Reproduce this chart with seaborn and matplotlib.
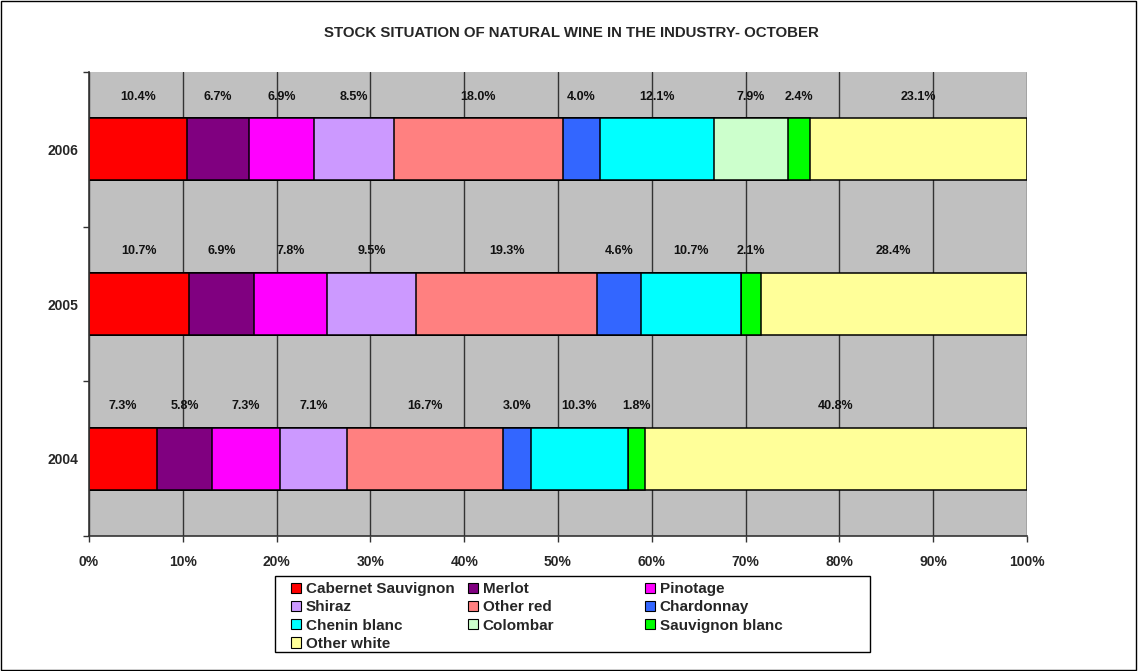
import matplotlib
matplotlib.use('Agg')
import matplotlib.pyplot as plt
from matplotlib.patches import Patch, Rectangle
import numpy as np
import seaborn as sns

years = ['2006', '2005', '2004']
varieties = ['Cabernet Sauvignon', 'Merlot', 'Pinotage', 'Shiraz', 'Other red',
             'Chardonnay', 'Chenin blanc', 'Colombar', 'Sauvignon blanc', 'Other white']
share_2006 = [10.4, 6.7, 6.9, 8.5, 18.0, 4.0, 12.1, 7.9, 2.4, 23.1]
share_2005 = [10.7, 6.9, 7.8, 9.5, 19.3, 4.6, 10.7, 0.0, 2.1, 28.4]
share_2004 = [7.3, 5.8, 7.3, 7.1, 16.7, 3.0, 10.3, 0.0, 1.8, 40.8]
colors = ['#FF0000', '#800080', '#FF00FF', '#CC99FF', '#FF8080',
          '#3366FF', '#00FFFF', '#CCFFCC', '#00FF00', '#FFFF99']
xticks = [0, 10, 20, 30, 40, 50, 60, 70, 80, 90, 100]

sns.set_theme(style='white')
plt.rcParams['font.family'] = ['Liberation Sans', 'DejaVu Sans']
plt.rcParams['font.weight'] = 'bold'

shares = np.array([share_2006, share_2005, share_2004])
# 100% stacked, like the spreadsheet does it
norm = shares / shares.sum(axis=1, keepdims=True) * 100
cum = norm.cumsum(axis=1)

fig = plt.figure(figsize=(11.38, 6.71), dpi=100)
ax = fig.add_axes([89/1138, 1 - 536/671, 938/1138, 464/671])
ax.set_facecolor('#C0C0C0')
ax.set_axisbelow(True)

# draw cumulative bars back to front so each one shows only its own segment
for i in reversed(range(len(varieties))):
    sns.barplot(x=cum[:, i], y=years, order=years, orient='h', color=colors[i],
                saturation=1, width=0.4, edgecolor='black', linewidth=1.1, ax=ax)

# data labels sit above each bar
for r in range(len(years)):
    for i in range(len(varieties)):
        if shares[r, i] <= 0:
            continue
        xc = cum[r, i] - norm[r, i] / 2
        ax.text(xc, r - 0.34, f'{shares[r, i]:.1f}%', ha='center', va='center',
                fontsize=9, fontweight='bold', color='#111111')

ax.set_xlim(0, 100)
ax.set_ylim(2.5, -0.5)
ax.set_xticks(xticks)
ax.set_xticklabels([f'{v}%' for v in xticks], fontsize=10, fontweight='bold')
ax.tick_params(axis='x', direction='out', length=4, width=1, color='#333333',
               pad=10, bottom=True)
ax.set_yticks(range(len(years)))
ax.set_yticklabels(years, fontsize=10, fontweight='bold')
ax.set_yticks([-0.5, 0.5, 1.5, 2.5], minor=True)
ax.tick_params(axis='y', which='major', length=0, pad=8)
ax.tick_params(axis='y', which='minor', direction='out', length=4, width=1,
               color='#333333', left=True)
ax.set_xlabel('')
ax.set_ylabel('')
ax.grid(axis='x', color='#333333', linewidth=1)
ax.grid(axis='y', visible=False)
for side in ['top', 'right']:
    ax.spines[side].set_visible(False)
ax.spines['left'].set_color('#333333')
ax.spines['bottom'].set_color('#333333')
ax.spines['left'].set_linewidth(1.2)
ax.spines['bottom'].set_linewidth(1.2)

fig.text(571/1138, 1 - 33/671, 'STOCK SITUATION OF NATURAL WINE IN THE INDUSTRY- OCTOBER',
         ha='center', va='center', fontsize=10.8, fontweight='bold')

# legend: three columns filled row by row, each column its own legend
columns = [[0, 3, 6, 9], [1, 4, 7], [2, 5, 8]]
col_x = [291, 468, 645]
for ks, x0 in zip(columns, col_x):
    handles = [Patch(facecolor=colors[k], edgecolor='black', linewidth=0.8,
                     label=varieties[k]) for k in ks]
    leg = fig.legend(handles=handles, loc='upper left',
                     bbox_to_anchor=(x0/1138, 1 - 582/671), frameon=False,
                     fontsize=11, handlelength=0.65, handleheight=0.65,
                     handletextpad=0.3, labelspacing=0.28, borderpad=0,
                     borderaxespad=0)
    for t in leg.get_texts():
        t.set_fontweight('bold')
fig.patches.append(Rectangle((275/1138, 1 - 652/671), 595/1138, 76/671,
                             transform=fig.transFigure, fill=False,
                             edgecolor='black', linewidth=1))
fig.patches.append(Rectangle((0.0005, 0.001), 0.998, 0.997, transform=fig.transFigure,
                             fill=False, edgecolor='black', linewidth=1))

fig.savefig('out.png', dpi=100)
